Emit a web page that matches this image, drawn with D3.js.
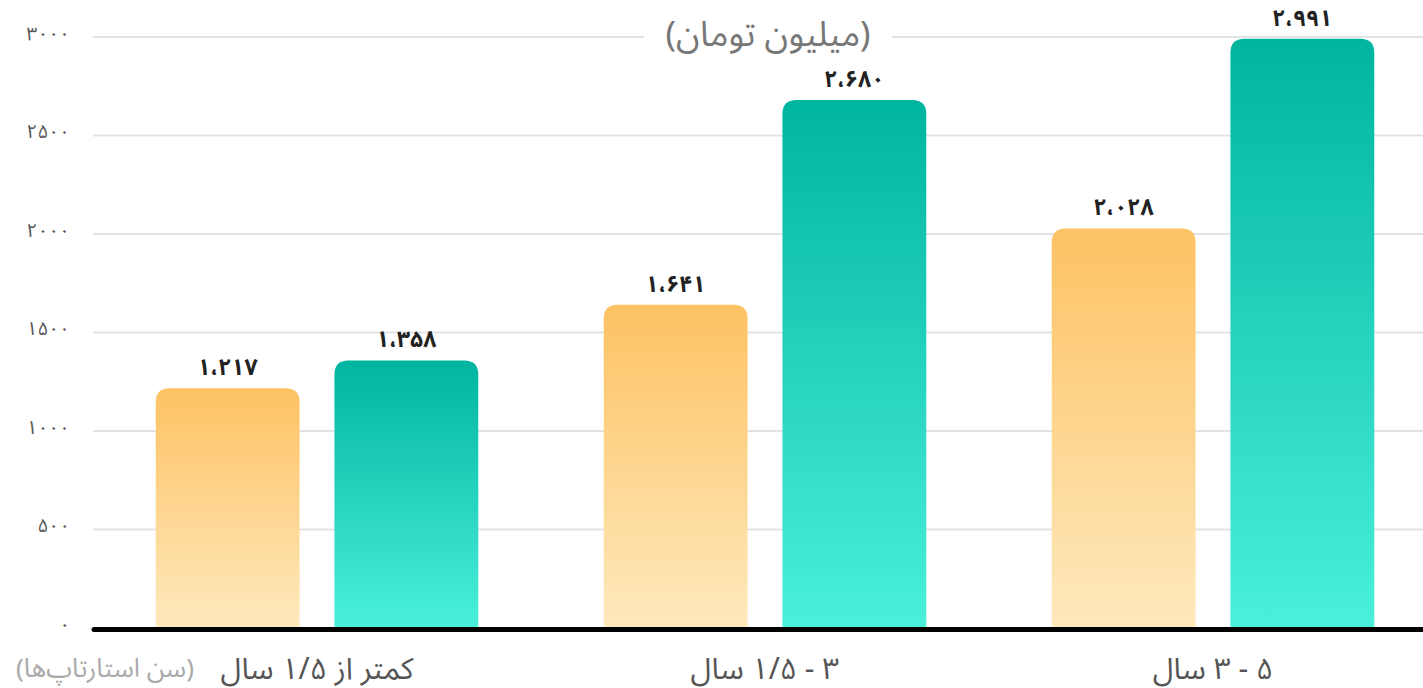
<!DOCTYPE html>
<html>
<head>
<meta charset="utf-8">
<script src="https://cdn.jsdelivr.net/npm/d3@7"></script>
<style>
  body { margin: 0; background: #fff; }
  svg { display: block; font-family: "Noto Sans Arabic", "DejaVu Sans", sans-serif; }
</style>
</head>
<body>
<svg id="chart" width="1423" height="688"></svg>
<script>
const width = 1423;
const height = 688;

// data
const categories = ["کمتر از ۱/۵ سال", "۳ - ۱/۵ سال", "۵ - ۳ سال"];
const seriesNames = ["a", "b"];
const orangeValues = [1217, 1641, 2028];
const tealValues = [1358, 2680, 2991];
const yTicks = [0, 500, 1000, 1500, 2000, 2500, 3000];
const title = "(میلیون تومان)";
const xTitle = "(سن استارتاپ‌ها)";

const toFa = s => String(s).replace(/\d/g, d => "۰۱۲۳۴۵۶۷۸۹"[d]);
const fmt = v => toFa(d3.format(",")(v)).replace(/,/g, "،");

const svg = d3.select("#chart");
const defs = svg.append("defs");

const gradients = [
  { id: "gOrange", top: "#fdc263", bottom: "#fee9bd" },
  { id: "gTeal", top: "#00b5a0", bottom: "#4af0dc" }
];
gradients.forEach(g => {
  const lg = defs.append("linearGradient").attr("id", g.id)
    .attr("x1", 0).attr("y1", 0).attr("x2", 0).attr("y2", 1);
  lg.append("stop").attr("offset", "0%").attr("stop-color", g.top);
  lg.append("stop").attr("offset", "100%").attr("stop-color", g.bottom);
});

const y = d3.scaleLinear().domain([0, 3000]).range([628, 37]);
const x0 = d3.scaleBand().domain(categories).range([93, 1437])
  .paddingInner(0.28).paddingOuter(0.14);
const x1 = d3.scaleBand().domain(seriesNames).range([0, x0.bandwidth()])
  .paddingInner(0.195);

// gridlines
svg.append("g").selectAll("line")
  .data(yTicks.filter(t => t > 0))
  .enter().append("line")
  .attr("x1", 93).attr("x2", width)
  .attr("y1", d => y(d)).attr("y2", d => y(d))
  .style("stroke", "#e3e3e3").style("stroke-width", 2);

// y tick labels
svg.append("g").selectAll("text")
  .data(yTicks)
  .enter().append("text")
  .attr("x", 70).attr("y", d => y(d))
  .attr("dy", "0.15em")
  .attr("text-anchor", "end")
  .style("font-size", "19px")
  .style("fill", "#555")
  .text(d => toFa(d));

// title with white backing
const tb = svg.append("g").attr("transform", "translate(768," + y(3000) + ")");
tb.append("rect").attr("x", -124).attr("y", -20).attr("width", 248).attr("height", 40).style("fill", "#fff");
tb.append("text")
  .attr("text-anchor", "middle").attr("direction", "rtl")
  .attr("dy", "0.25em")
  .style("font-size", "35px").style("fill", "#777")
  .text(title);

// bars
const rows = categories.map((c, i) => ({
  cat: c,
  bars: [
    { key: "a", value: orangeValues[i], fill: "url(#gOrange)" },
    { key: "b", value: tealValues[i], fill: "url(#gTeal)" }
  ]
}));

function barPath(d) {
  const x = x1(d.key), w = x1.bandwidth();
  const top = y(d.value), bot = y(0), r = 14;
  return "M" + x + "," + bot +
    "V" + (top + r) +
    "Q" + x + "," + top + " " + (x + r) + "," + top +
    "H" + (x + w - r) +
    "Q" + (x + w) + "," + top + " " + (x + w) + "," + (top + r) +
    "V" + bot + "Z";
}

const groups = svg.append("g").selectAll("g")
  .data(rows)
  .enter().append("g")
  .attr("transform", d => "translate(" + x0(d.cat) + ",0)");

groups.selectAll("path")
  .data(d => d.bars)
  .enter().append("path")
  .attr("d", barPath)
  .style("fill", d => d.fill);

groups.selectAll("text")
  .data(d => d.bars)
  .enter().append("text")
  .attr("x", d => x1(d.key) + x1.bandwidth() / 2)
  .attr("y", d => y(d.value) - 13)
  .attr("text-anchor", "middle")
  .style("font-size", "23px").style("font-weight", "bold")
  .style("fill", "#222")
  .text(d => fmt(d.value));

// baseline
svg.append("line")
  .attr("x1", 94).attr("x2", width + 5)
  .attr("y1", y(0) + 1.5).attr("y2", y(0) + 1.5)
  .style("stroke", "#000").style("stroke-width", 5)
  .style("stroke-linecap", "round");

// x labels
svg.append("g").selectAll("text")
  .data(categories)
  .enter().append("text")
  .attr("x", d => x0(d) + x0.bandwidth() / 2)
  .attr("y", 668)
  .attr("dy", "0.35em")
  .attr("text-anchor", "middle").attr("direction", "rtl")
  .style("font-size", "30px").style("fill", "#555")
  .text(d => d);

svg.append("text")
  .attr("x", 105).attr("y", 668).attr("dy", "0.35em")
  .attr("text-anchor", "middle").attr("direction", "rtl")
  .style("font-size", "26px").style("fill", "#aaa")
  .text(xTitle);
</script>
</body>
</html>
